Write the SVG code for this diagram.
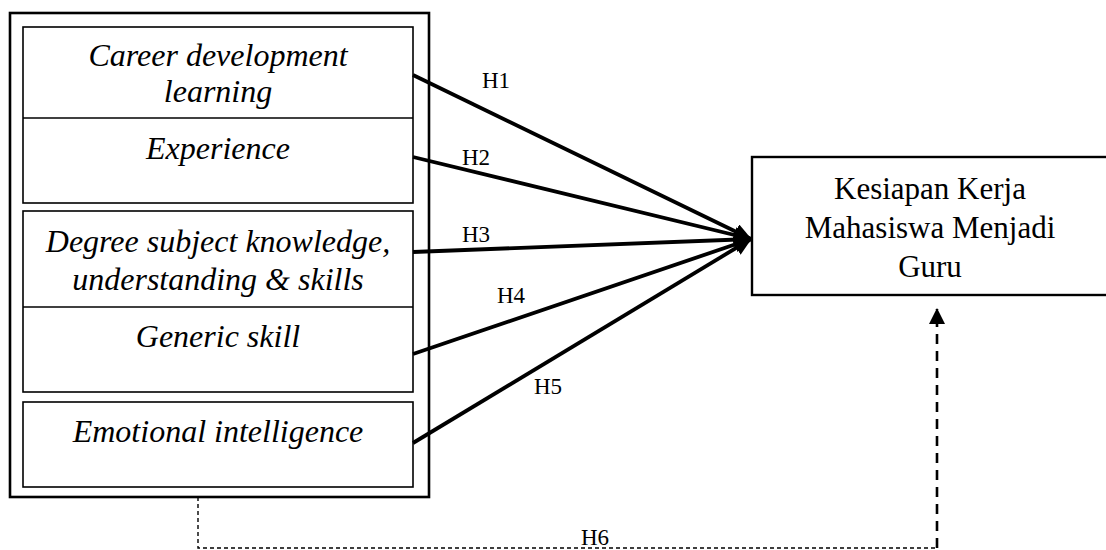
<svg xmlns="http://www.w3.org/2000/svg" width="1106" height="550" viewBox="0 0 1106 550">
<style>
.box{fill:none;stroke:#000;stroke-width:1.6}
.outer{fill:none;stroke:#000;stroke-width:2.6}
.it{font-family:"Liberation Serif","Times New Roman",serif;font-style:italic;font-size:32px;text-anchor:middle;fill:#000}
.rg{font-family:"Liberation Serif","Times New Roman",serif;font-size:31px;text-anchor:middle;fill:#000}
.lbl{font-family:"Liberation Serif","Times New Roman",serif;font-size:23px;fill:#000}
.arr{stroke:#000;stroke-width:3.8;fill:none;marker-end:url(#ah)}
</style>
<defs>
<marker id="ah" markerUnits="userSpaceOnUse" markerWidth="18" markerHeight="16" refX="17" refY="8" orient="auto">
<path d="M0,0 L18,8 L0,16 Z" fill="#000"/>
</marker>
<marker id="ah2" markerUnits="userSpaceOnUse" markerWidth="16" markerHeight="16" refX="15" refY="8" orient="auto">
<path d="M0,0 L16,8 L0,16 Z" fill="#000"/>
</marker>
</defs>
<g id="independents">
<rect class="outer" x="10" y="13" width="419" height="484"/>
<g id="node-cdl-exp">
<rect class="box" x="23" y="27" width="390" height="176"/>
<line x1="23" y1="118" x2="413" y2="118" stroke="#000" stroke-width="1.6"/>
<text class="it" x="218" y="66">Career development</text>
<text class="it" x="218" y="102">learning</text>
<text class="it" x="218" y="159">Experience</text>
</g>
<g id="node-dsk-gs">
<rect class="box" x="23" y="211" width="390" height="181"/>
<line x1="23" y1="307" x2="413" y2="307" stroke="#000" stroke-width="1.6"/>
<text class="it" x="218" y="252">Degree subject knowledge,</text>
<text class="it" x="218" y="290">understanding &amp; skills</text>
<text class="it" x="218" y="347">Generic skill</text>
</g>
<g id="node-ei">
<rect class="box" x="23" y="402" width="390" height="85"/>
<text class="it" x="218" y="442">Emotional intelligence</text>
</g>
</g>
<g id="node-kesiapan">
<rect x="752" y="157" width="370" height="138" fill="none" stroke="#000" stroke-width="2.4"/>
<text class="rg" x="930" y="199">Kesiapan Kerja</text>
<text class="rg" x="930" y="238">Mahasiswa Menjadi</text>
<text class="rg" x="930" y="277">Guru</text>
</g>
<g id="connectors">
<line class="arr" x1="413" y1="75" x2="751" y2="239"/>
<line class="arr" x1="413" y1="157" x2="751" y2="239"/>
<line class="arr" x1="413" y1="252" x2="751" y2="239"/>
<line class="arr" x1="413" y1="354" x2="751" y2="239"/>
<line class="arr" x1="413" y1="443" x2="751" y2="239"/>
<polyline points="198,497 198,548 937,548" fill="none" stroke="#000" stroke-width="1.4" stroke-dasharray="4,3"/>
<line x1="937" y1="548" x2="937" y2="309" stroke="#000" stroke-width="2.6" stroke-dasharray="10,7" marker-end="url(#ah2)"/>
<text class="lbl" x="482" y="88">H1</text>
<text class="lbl" x="462" y="165">H2</text>
<text class="lbl" x="462" y="242">H3</text>
<text class="lbl" x="497" y="303">H4</text>
<text class="lbl" x="534" y="394">H5</text>
<text class="lbl" x="581" y="545">H6</text>
</g>
</svg>
